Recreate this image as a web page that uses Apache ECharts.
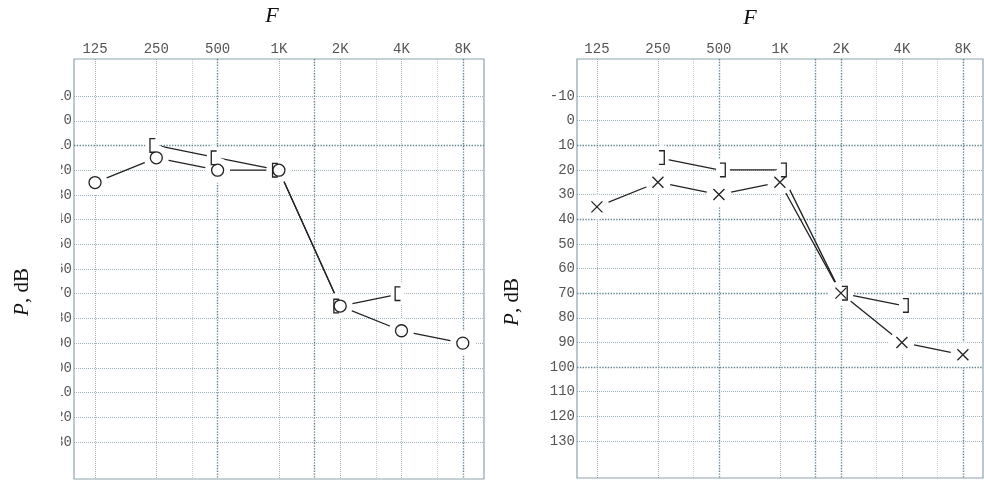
<!DOCTYPE html>
<html>
<head>
<meta charset="utf-8">
<script src="https://cdn.jsdelivr.net/npm/echarts@6/dist/echarts.min.js"></script>
<style>
  html, body { margin: 0; padding: 0; background: #fff; }
  #chart { width: 984px; height: 482px; }
</style>
</head>
<body>
<div id="chart"></div>
<script>
// frequencies on an octave scale: 125 = 0, 250 = 1 ... 8K = 6
const freqLabels = ['125', '250', '500', '1K', '2K', '4K', '8K']
const octaves = [0, 1, 2, 3, 4, 5, 6]
const midOctaves = [1.585, 3.585, 4.585, 5.585] // 750, 1.5K, 3K, 6K
const dbTicks = [-10, 0, 10, 20, 30, 40, 50, 60, 70, 80, 90, 100, 110, 120, 130]

// left ear: air "O", bone "["
const leftAir = [25, 15, 20, 20, 75, 85, 90]
const leftBone = [null, 10, 15, 20, 75, 70, null]
// right ear: air "X", bone "]"
const rightAir = [35, 25, 30, 25, 70, 90, 95]
const rightBone = [null, 15, 20, 20, 70, 75, null]

const pairs = vals => vals.map((v, i) => v == null ? null : [octaves[i], v]).filter(p => p)

const chart = echarts.init(document.getElementById('chart'))

const gridColor = '#5d7f8e'
const tickFont = { fontFamily: 'Liberation Mono', fontSize: 14, color: '#555' }

function gridLines (strongX, strongY) {
    const data = []
    octaves.concat(midOctaves).forEach(v => {
        const strong = strongX.indexOf(v) >= 0
        const mid = midOctaves.indexOf(v) >= 0 && !strong
        data.push({ xAxis: v, lineStyle: { type: 'dotted', color: gridColor, width: strong ? 1.4 : 1, opacity: strong ? 0.95 : (mid ? 0.35 : 0.6) } })
    })
    dbTicks.forEach(v => {
        const strong = strongY.indexOf(v) >= 0
        data.push({ yAxis: v, lineStyle: { type: 'dotted', color: gridColor, width: strong ? 1.4 : 1, opacity: strong ? 0.95 : 0.6 } })
    })
    return { symbol: ['none', 'none'], silent: true, label: { show: false }, animation: false, z: 1, data: data }
}

function xAxisFor (idx, min, max) {
    return {
        gridIndex: idx, type: 'value', position: 'top', min: min, max: max,
        axisLine: { show: false }, axisTick: { show: false }, splitLine: { show: false },
        axisLabel: Object.assign({ customValues: octaves, margin: 3, formatter: v => freqLabels[Math.round(v)] }, tickFont)
    }
}

function yAxisFor (idx, fmt) {
    return {
        gridIndex: idx, type: 'value', inverse: true, min: -25, max: 145,
        axisLine: { show: false }, axisTick: { show: false }, splitLine: { show: false },
        axisLabel: Object.assign({ customValues: dbTicks, margin: 2, formatter: fmt }, tickFont)
    }
}

const lineStyle = { color: '#222', width: 1.3 }
// filled outlines, so the glyphs keep an even stroke when scaled
const bracketL = 'path://M0,0 L6,0 L6,1.3 L1.3,1.3 L1.3,12.7 L6,12.7 L6,14 L0,14 Z'
const bracketR = 'path://M0,0 L6,0 L6,14 L0,14 L0,12.7 L4.7,12.7 L4.7,1.3 L0,1.3 Z'
const cross = 'path://M0,0 L10,10 M10,0 L0,10'
const ringStyle = { color: '#fff', borderColor: '#222', borderWidth: 1.3, opacity: 1 }
const crossStyle = { color: 'transparent', borderColor: '#222', borderWidth: 1.3, opacity: 1 }
const bracketStyle = { color: '#222', opacity: 1 }

function earSeries (idx, air, bone, airSymbol, airSize, airStyle, boneSymbol, boneOffset, marks) {
    const a = pairs(air), b = pairs(bone)
    return [
        { type: 'line', xAxisIndex: idx, yAxisIndex: idx, data: a, symbol: 'none', lineStyle: lineStyle, z: 2, markLine: marks },
        { type: 'line', xAxisIndex: idx, yAxisIndex: idx, data: b, symbol: 'none', lineStyle: lineStyle, z: 2 },
        // white halos so lines stop short of the symbols
        { type: 'scatter', xAxisIndex: idx, yAxisIndex: idx, data: a, symbol: 'circle', symbolSize: 25, itemStyle: { color: '#fff', opacity: 1 }, z: 5, silent: true },
        { type: 'scatter', xAxisIndex: idx, yAxisIndex: idx, data: b, symbol: 'circle', symbolSize: [14, 26], symbolOffset: boneOffset, itemStyle: { color: '#fff', opacity: 1 }, z: 5, silent: true },
        { type: 'scatter', xAxisIndex: idx, yAxisIndex: idx, data: a, symbol: airSymbol, symbolSize: airSize, itemStyle: airStyle, z: 6 },
        { type: 'scatter', xAxisIndex: idx, yAxisIndex: idx, data: b, symbol: boneSymbol, symbolSize: [6, 15], symbolOffset: boneOffset, itemStyle: bracketStyle, z: 6 }
    ]
}

chart.setOption({
    animation: false,
    grid: [
        { left: 74, top: 59, width: 410, height: 420, show: true, borderColor: '#8ea4ad', borderWidth: 1.2, backgroundColor: 'transparent' },
        { left: 577, top: 59, width: 406, height: 419, show: true, borderColor: '#8ea4ad', borderWidth: 1.2, backgroundColor: 'transparent' }
    ],
    xAxis: [xAxisFor(0, -0.343, 6.346), xAxisFor(1, -0.327, 6.33)],
    yAxis: [
        yAxisFor(0, v => v >= 100 ? String(v).slice(1) : String(v)),
        yAxisFor(1, v => String(v))
    ],
    series: [].concat(
        earSeries(0, leftAir, leftBone, 'circle', 12, ringStyle, bracketL, [-4, 0], gridLines([2, 3.585, 6], [10])),
        earSeries(1, rightAir, rightBone, cross, 11, crossStyle, bracketR, [4, 0], gridLines([2, 3.585, 4, 6], [10, 40, 70, 100]))
    ),
    graphic: [
        // the left panel is cut at its left edge in the reference
        { type: 'rect', left: 0, top: 62, shape: { width: 61, height: 420 }, style: { fill: '#fff' }, z: 100 },
        { type: 'text', x: 272, y: 16, z: 101, style: { text: 'F', font: 'italic 22px "Liberation Serif"', fill: '#111', align: 'center', verticalAlign: 'middle' } },
        { type: 'text', x: 750, y: 18, z: 101, style: { text: 'F', font: 'italic 22px "Liberation Serif"', fill: '#111', align: 'center', verticalAlign: 'middle' } },
        { type: 'text', x: 22, y: 292, rotation: Math.PI / 2, z: 101, style: { text: '{i|P}, dB', font: '21px "Liberation Serif"', fill: '#111', align: 'center', verticalAlign: 'middle', rich: { i: { fontStyle: 'italic', fontFamily: 'Liberation Serif', fontSize: 21 } } } },
        { type: 'text', x: 512, y: 302, rotation: Math.PI / 2, z: 101, style: { text: '{i|P}, dB', font: '21px "Liberation Serif"', fill: '#111', align: 'center', verticalAlign: 'middle', rich: { i: { fontStyle: 'italic', fontFamily: 'Liberation Serif', fontSize: 21 } } } }
    ]
})
</script>
</body>
</html>
